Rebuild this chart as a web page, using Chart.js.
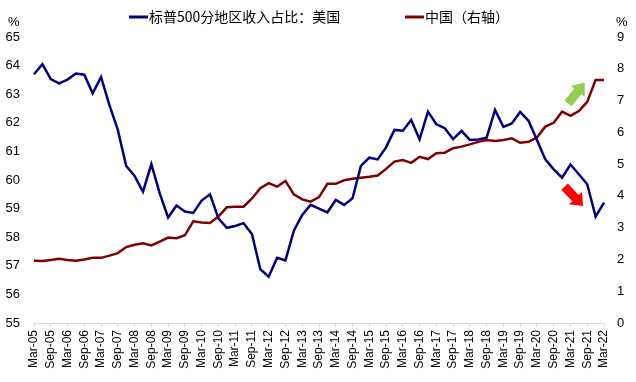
<!DOCTYPE html>
<html><head><meta charset="utf-8">
<script src="https://cdn.jsdelivr.net/npm/chart.js@4"></script>
<style>html,body{margin:0;padding:0;background:#fff}#wrap{width:636px;height:382px;position:relative}</style>
</head><body><div id="wrap"><canvas id="c" width="636" height="382"></canvas></div>
<script>
const quarters = ['Mar-05','Jun-05','Sep-05','Dec-05','Mar-06','Jun-06','Sep-06','Dec-06','Mar-07','Jun-07','Sep-07','Dec-07','Mar-08','Jun-08','Sep-08','Dec-08','Mar-09','Jun-09','Sep-09','Dec-09','Mar-10','Jun-10','Sep-10','Dec-10','Mar-11','Jun-11','Sep-11','Dec-11','Mar-12','Jun-12','Sep-12','Dec-12','Mar-13','Jun-13','Sep-13','Dec-13','Mar-14','Jun-14','Sep-14','Dec-14','Mar-15','Jun-15','Sep-15','Dec-15','Mar-16','Jun-16','Sep-16','Dec-16','Mar-17','Jun-17','Sep-17','Dec-17','Mar-18','Jun-18','Sep-18','Dec-18','Mar-19','Jun-19','Sep-19','Dec-19','Mar-20','Jun-20','Sep-20','Dec-20','Mar-21','Jun-21','Sep-21','Dec-21','Mar-22'];
const usShare = [63.70,64.05,63.53,63.38,63.51,63.72,63.68,63.03,63.60,62.62,61.75,60.49,60.14,59.59,60.55,59.53,58.69,59.11,58.90,58.85,59.28,59.50,58.66,58.33,58.39,58.49,58.11,56.88,56.62,57.28,57.19,58.23,58.78,59.13,59.00,58.87,59.30,59.13,59.36,60.49,60.78,60.72,61.14,61.75,61.72,62.10,61.42,62.39,61.95,61.81,61.43,61.72,61.40,61.42,61.48,62.45,61.86,61.98,62.38,62.07,61.40,60.72,60.37,60.08,60.54,60.20,59.85,58.72,59.21];
const chinaShare = [1.96,1.95,1.98,2.02,1.98,1.96,2.00,2.05,2.05,2.12,2.20,2.39,2.46,2.51,2.44,2.56,2.69,2.67,2.76,3.20,3.16,3.15,3.35,3.64,3.66,3.66,3.92,4.24,4.40,4.29,4.47,4.05,3.89,3.82,3.96,4.38,4.38,4.49,4.54,4.57,4.60,4.64,4.85,5.08,5.13,5.04,5.23,5.16,5.34,5.36,5.50,5.55,5.62,5.70,5.76,5.73,5.76,5.81,5.67,5.70,5.84,6.18,6.30,6.65,6.52,6.67,6.96,7.65,7.65];
const leftRange = [55, 65];
const rightRange = [0, 9];
const seriesNames = ['标普500分地区收入占比：美国', '中国（右轴）'];
const unitLabel = '%';
// arrow annotations: [fromIndex, fromValue(right axis), toIndex, toValue(right axis)]
const upArrow = [63.7, 6.91, 65.7, 7.56];
const downArrow = [63.3, 4.29, 65.5, 3.68];

const NAVY = '#000080', MAROON = '#800000';
const numFont = {family: "'Liberation Sans', Arial, sans-serif", size: 13};

function drawBlockArrow(ctx, x1, y1, x2, y2, color) {
  const dx = x2 - x1, dy = y2 - y1, len = Math.hypot(dx, dy);
  const ux = dx / len, uy = dy / len, px = -uy, py = ux;
  const sw = 4.5, hw = 9, hl = 11;
  const bx = x2 - ux * hl, by = y2 - uy * hl;
  ctx.save();
  ctx.fillStyle = color;
  ctx.beginPath();
  ctx.moveTo(x1 + px * sw, y1 + py * sw);
  ctx.lineTo(bx + px * sw, by + py * sw);
  ctx.lineTo(bx + px * hw, by + py * hw);
  ctx.lineTo(x2, y2);
  ctx.lineTo(bx - px * hw, by - py * hw);
  ctx.lineTo(bx - px * sw, by - py * sw);
  ctx.lineTo(x1 - px * sw, y1 - py * sw);
  ctx.closePath();
  ctx.fill();
  ctx.restore();
}

const decor = {
  id: 'decor',
  afterDraw(chart) {
    const ctx = chart.ctx;
    const xs = chart.scales.x, yr = chart.scales.y1;
    // legend
    ctx.save();
    ctx.textBaseline = 'middle';
    ctx.font = "14px 'Noto Sans CJK SC', sans-serif";
    ctx.fillStyle = '#000';
    ctx.lineWidth = 3;
    ctx.strokeStyle = NAVY;
    ctx.beginPath(); ctx.moveTo(129, 17); ctx.lineTo(148, 17); ctx.stroke();
    ctx.fillText(seriesNames[0], 149, 17);
    ctx.strokeStyle = MAROON;
    ctx.beginPath(); ctx.moveTo(405, 17); ctx.lineTo(424, 17); ctx.stroke();
    ctx.fillText(seriesNames[1], 425, 17);
    // units
    ctx.font = "13px 'Liberation Sans', Arial, sans-serif";
    ctx.textAlign = 'left';
    ctx.fillText(unitLabel, 8, 22);
    ctx.fillText(unitLabel, 616, 22);
    ctx.restore();
    // arrows
    drawBlockArrow(ctx, xs.getPixelForValue(upArrow[0]), yr.getPixelForValue(upArrow[1]),
      xs.getPixelForValue(upArrow[2]), yr.getPixelForValue(upArrow[3]), '#92D050');
    drawBlockArrow(ctx, xs.getPixelForValue(downArrow[0]), yr.getPixelForValue(downArrow[1]),
      xs.getPixelForValue(downArrow[2]), yr.getPixelForValue(downArrow[3]), '#FF0000');
  }
};

new Chart(document.getElementById('c'), {
  type: 'line',
  data: {
    labels: quarters,
    datasets: [
      {label: seriesNames[0], data: usShare, yAxisID: 'y', borderColor: NAVY, borderWidth: 2.5, pointRadius: 0, tension: 0, fill: false},
      {label: seriesNames[1], data: chinaShare, yAxisID: 'y1', borderColor: MAROON, borderWidth: 2.5, pointRadius: 0, tension: 0, fill: false}
    ]
  },
  options: {
    responsive: false,
    animation: false,
    layout: {padding: {top: 37, left: 0, right: 0, bottom: 0}},
    plugins: {legend: {display: false}, tooltip: {enabled: false}},
    scales: {
      x: {
        type: 'category',
        offset: false,
        grid: {display: true, drawOnChartArea: false, drawTicks: true, tickLength: 4, color: '#d9d9d9'},
        border: {display: true, color: '#d9d9d9', width: 1},
        ticks: {autoSkip: false, minRotation: 90, maxRotation: 90, padding: 3, color: '#000',
          font: {family: "'Liberation Sans', Arial, sans-serif", size: 12},
          callback: (v, i) => (i % 2 === 0 ? quarters[i] : null)},
        afterFit: s => { s.height = 59; }
      },
      y: {
        position: 'left', min: leftRange[0], max: leftRange[1],
        grid: {display: false, drawTicks: false}, border: {display: false},
        ticks: {stepSize: 1, padding: 14, color: '#000', font: numFont},
        afterFit: s => { s.width = 34; }
      },
      y1: {
        position: 'right', min: rightRange[0], max: rightRange[1],
        grid: {display: false, drawTicks: false}, border: {display: false},
        ticks: {stepSize: 1, padding: 13, color: '#000', font: numFont},
        afterFit: s => { s.width = 32; }
      }
    }
  },
  plugins: [decor]
});
</script></body></html>
